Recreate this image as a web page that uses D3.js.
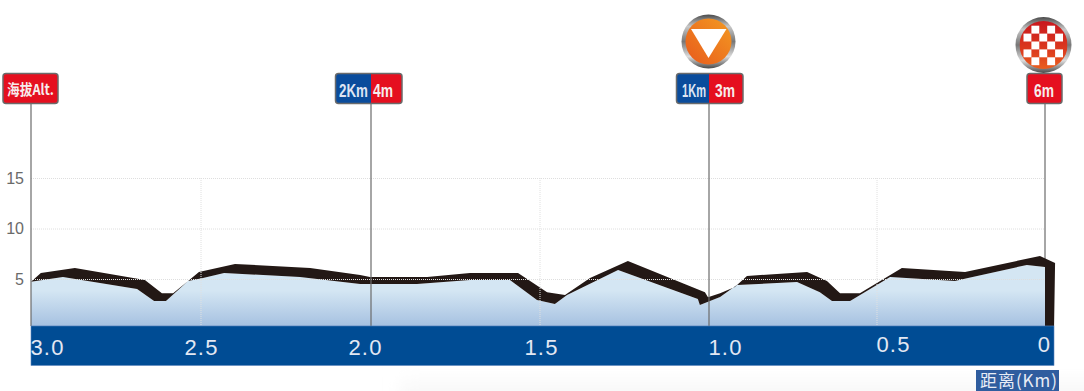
<!DOCTYPE html>
<html>
<head>
<meta charset="utf-8">
<script src="https://cdn.jsdelivr.net/npm/d3@7"></script>
<style>
  html, body { margin: 0; padding: 0; background: #fff; }
  svg { display: block; }
  .badge-text { font-family: "Liberation Sans", sans-serif; font-weight: 700; font-size: 19px; }
</style>
</head>
<body>
<div class="canvas"></div>
<script>
// km to finish / altitude in metres
const roadKm = [3.0, 2.906, 2.688, 2.638, 2.603, 2.538, 2.494, 2.432, 2.209, 2.032, 1.864, 1.707, 1.589, 1.509, 1.456, 1.42, 1.269, 1.033, 1.027, 0.967, 0.917, 0.738, 0.67, 0.634, 0.58, 0.461, 0.268, 0.229, 0.054, 0];
const roadAlt = [4.73, 5.2, 4.0, 2.82, 2.82, 4.8, 5.1, 5.6, 5.2, 4.5, 4.5, 4.9, 4.9, 2.92, 2.52, 3.42, 5.9, 3.02, 2.43, 3.22, 4.4, 4.7, 3.7, 2.82, 2.82, 5.2, 4.8, 5.1, 6.39, 6.19];
const edgeKm = [3.0, 2.971, 2.871, 2.665, 2.615, 2.582, 2.538, 2.506, 2.4, 2.179, 2.032, 2.003, 1.834, 1.707, 1.565, 1.479, 1.426, 1.352, 1.24, 1.012, 1.003, 0.967, 0.923, 0.887, 0.708, 0.649, 0.61, 0.551, 0.426, 0.238, 0.015, -0.03, -0.027];
const edgeAlt = [4.73, 5.6, 6.1, 4.9, 3.6, 3.6, 4.8, 5.7, 6.49, 6.09, 5.4, 5.2, 5.2, 5.6, 5.6, 3.7, 3.42, 5.1, 6.78, 3.7, 3.2, 3.6, 4.2, 5.3, 5.7, 4.8, 3.6, 3.6, 6.09, 5.7, 7.28, 6.58, 0.35];

const baseAlt = 0.35;
const altTicks = [5, 10, 15];
const kmTicks = [3.0, 2.5, 2.0, 1.5, 1.0, 0.5, 0];
const kmLabels = ["3.0", "2.5", "2.0", "1.5", "1.0", "0.5", "0"];
const stemKm = [3.0, 2.0, 1.0];
const finishKm = 0;
const gridKm = [2.5, 1.5, 0.5];

const markerKm = [3.0, 2.0, 1.0, 0];
const markerLeft = ["", "2Km", "1Km", ""];
const markerRight = ["海拔Alt.", "4m", "3m", "6m"];

const dims = { width: 1084, height: 391 };
const x = d3.scaleLinear().domain([3, 2, 1, 0]).range([31, 371, 709, 1045]);
const y = d3.scaleLinear().domain([5, 15]).range([279, 178]);

// the labels in the band do not sit centred on their km, so they get nudged
const kmLabelShift = [16, 0, -6, 1, 16, 16, -1];
const kmLabelDrop = [0, 0, 0, 0, 0, -3, -3];

const svg = d3.select(".canvas").append("svg")
  .attr("width", dims.width)
  .attr("height", dims.height);

const defs = svg.append("defs");

const skyGrad = defs.append("linearGradient").attr("id", "fillGrad").attr("x1", 0).attr("x2", 0).attr("y1", 0).attr("y2", 1);
skyGrad.append("stop").attr("offset", "0.42").attr("stop-color", "#d4e6f3");
skyGrad.append("stop").attr("offset", "1").attr("stop-color", "#a6c1e1");

const shadowGrad = defs.append("linearGradient").attr("id", "shadowGrad").attr("x1", 0).attr("x2", 0).attr("y1", 0).attr("y2", 1);
shadowGrad.append("stop").attr("offset", "0").attr("stop-color", "#fff");
shadowGrad.append("stop").attr("offset", "1").attr("stop-color", "#f1f1f1");
defs.append("filter").attr("id", "soft").attr("x", "-10%").attr("width", "120%").attr("y", "-50%").attr("height", "200%")
  .append("feGaussianBlur").attr("stdDeviation", 8);

const ringGrad = defs.append("linearGradient").attr("id", "ringGrad").attr("x1", 0).attr("x2", 0).attr("y1", 0).attr("y2", 1);
[["0", "#4a4a4a"], ["0.22", "#c8c8c8"], ["0.5", "#777"], ["0.78", "#dcdcdc"], ["1", "#4a4a4a"]].forEach(([o, c]) => {
  ringGrad.append("stop").attr("offset", o).attr("stop-color", c);
});
const orangeGrad = defs.append("linearGradient").attr("id", "orangeGrad").attr("x1", 0).attr("x2", 1).attr("y1", 1).attr("y2", 0);
orangeGrad.append("stop").attr("offset", "0").attr("stop-color", "#e85a1c");
orangeGrad.append("stop").attr("offset", "1").attr("stop-color", "#f39a22");
const checkGrad = defs.append("linearGradient").attr("id", "checkGrad").attr("x1", 0).attr("x2", 0).attr("y1", 0).attr("y2", 1);
checkGrad.append("stop").attr("offset", "0").attr("stop-color", "#c9171e");
checkGrad.append("stop").attr("offset", "0.6").attr("stop-color", "#dc3a1e");
checkGrad.append("stop").attr("offset", "1").attr("stop-color", "#ea5f1e");

// faint page shadow under the chart
svg.append("rect")
  .attr("x", 400).attr("y", 372).attr("width", 760).attr("height", 40)
  .attr("fill", "url(#shadowGrad)")
  .attr("filter", "url(#soft)");

// the finish stem stops at the ribbon, so it goes in first
svg.append("line")
  .attr("x1", x(finishKm)).attr("x2", x(finishKm))
  .attr("y1", 104).attr("y2", y(baseAlt))
  .attr("stroke", "#6b6b6b").attr("stroke-width", 1.2);

// profile
const road = roadKm.map((d, i) => [d, roadAlt[i]]);
const edge = edgeKm.map((d, i) => [d, edgeAlt[i]]);

svg.append("path")
  .datum(road)
  .attr("fill", "url(#fillGrad)")
  .attr("d", d3.area().x((d) => x(d[0])).y0(y(baseAlt)).y1((d) => y(d[1])));

const ribbon = edge.concat([[0, baseAlt]], road.slice().reverse());
svg.append("path")
  .datum(ribbon)
  .attr("fill", "#231815")
  .attr("d", d3.line().x((d) => x(d[0])).y((d) => y(d[1])));

// grid
svg.append("g").selectAll("line").data(altTicks).enter().append("line")
  .attr("x1", 31).attr("x2", 1045)
  .attr("y1", (d) => y(d) + 0.5).attr("y2", (d) => y(d) + 0.5)
  .attr("stroke", "#dedede").attr("stroke-dasharray", "1 1");
svg.append("g").selectAll("line").data(gridKm).enter().append("line")
  .attr("x1", (d) => x(d)).attr("x2", (d) => x(d))
  .attr("y1", y(15)).attr("y2", y(baseAlt))
  .attr("stroke", "#e0e0e0").attr("stroke-dasharray", "1 1");

// y axis labels
const yAxis = svg.append("g")
  .attr("transform", "translate(31,0)")
  .call(d3.axisLeft(y).tickValues(altTicks).tickSize(0).tickPadding(7));
yAxis.select(".domain").remove();
yAxis.selectAll("text")
  .attr("font-family", "Liberation Sans, sans-serif")
  .attr("font-size", 16)
  .attr("fill", "#6a6a6a");

// stems
svg.append("g").selectAll("line").data(stemKm).enter().append("line")
  .attr("x1", (d) => x(d)).attr("x2", (d) => x(d))
  .attr("y1", 104).attr("y2", y(baseAlt))
  .attr("stroke", "#6b6b6b").attr("stroke-width", 1.2);

// x band and labels
svg.append("rect")
  .attr("x", 31).attr("y", y(baseAlt))
  .attr("width", 1023).attr("height", 39.5)
  .attr("fill", "#004c94")
  .attr("stroke", "#5a84bd").attr("stroke-width", 0.6);

const xAxis = svg.append("g")
  .attr("transform", `translate(0,${y(baseAlt)})`)
  .call(d3.axisBottom(x).tickValues(kmTicks).tickSize(0).tickPadding(0).tickFormat((d, i) => kmLabels[i]));
xAxis.select(".domain").remove();
xAxis.selectAll("text")
  .attr("font-family", "Liberation Sans, sans-serif")
  .attr("font-size", 22)
  .attr("letter-spacing", 1.2)
  .attr("fill", "#e3e8f3")
  .attr("dx", (d, i) => kmLabelShift[i])
  .attr("y", (d, i) => 13 + kmLabelDrop[i]);

// squeeze a text into a given width (no narrow face is installed)
function fitText(sel, left, base, width) {
  const natural = sel.node().getComputedTextLength();
  sel.attr("transform", `translate(${left},${base}) scale(${width / natural},1)`);
}

// marker badges
const red = "#e50f1f";
const blue = "#0a4c9c";
const badgeBox = [[3, 58], [335.5, 402], [676.5, 743], [1027, 1062]];
const leftTextBox = [null, [339, 29], [682, 24], null];
const rightTextBox = [[7, 47], [373, 20], [715, 20], [1034, 20]];
const markers = svg.append("g").selectAll("g").data(markerKm).enter().append("g");

markers.each(function (d, i) {
  const g = d3.select(this);
  const [left, right] = badgeBox[i];
  const mid = x(d);
  const clipId = `badge${i}`;
  defs.append("clipPath").attr("id", clipId).append("rect")
    .attr("x", left).attr("y", 73.5).attr("width", right - left).attr("height", 30).attr("rx", 3);
  g.append("rect").attr("x", left).attr("y", 73.5).attr("width", right - left).attr("height", 30)
    .attr("fill", red).attr("clip-path", `url(#${clipId})`);
  if (markerLeft[i]) {
    g.append("rect").attr("x", left).attr("y", 73.5).attr("width", mid - left).attr("height", 30)
      .attr("fill", blue).attr("clip-path", `url(#${clipId})`);
    g.append("text").attr("class", "badge-text")
      .attr("fill", "#dfe5f3")
      .text(markerLeft[i])
      .call(fitText, leftTextBox[i][0], 96.5, leftTextBox[i][1]);
  }
  g.append("rect").attr("x", left).attr("y", 73.5).attr("width", right - left).attr("height", 30)
    .attr("rx", 3).attr("fill", "none").attr("stroke", "#6b6b6b").attr("stroke-width", 1.5);
  g.append("text").attr("class", "badge-text")
    .attr("fill", "#f6ecec")
    .style("font-family", i === 0 ? '"Noto Sans CJK SC", "Liberation Sans", sans-serif' : null)
    .style("font-size", i === 0 ? "15px" : null)
    .text(markerRight[i])
    .call(fitText, rightTextBox[i][0], i === 0 ? 95 : 96.5, rightTextBox[i][1]);
});

// sprint icon
const sprint = svg.append("g").attr("transform", "translate(708.5,41.5)");
sprint.append("circle").attr("r", 27).attr("fill", "url(#ringGrad)");
sprint.append("circle").attr("r", 23).attr("fill", "url(#orangeGrad)");
sprint.append("path")
  .attr("d", d3.line()([[-17.5, -12.5], [18, -12.5], [0, 16.5]]) + "Z")
  .attr("fill", "#fff");

// finish icon
const cell = 7.9;
const finish = svg.append("g").attr("transform", "translate(1043.5,45)");
defs.append("clipPath").attr("id", "checkClip").append("circle").attr("r", 24);
finish.append("circle").attr("r", 28).attr("fill", "url(#ringGrad)");
const board = finish.append("g").attr("clip-path", "url(#checkClip)");
board.append("rect").attr("x", -24).attr("y", -24).attr("width", 48).attr("height", 48).attr("fill", "url(#checkGrad)");
board.selectAll("rect.sq")
  .data(d3.cross(d3.range(0, 5), d3.range(0, 5)).filter(([a, b]) => (a + b) % 2 === 1))
  .enter().append("rect")
  .attr("class", "sq")
  .attr("x", (d) => -20 + d[0] * cell)
  .attr("y", (d) => -19.3 + d[1] * cell)
  .attr("width", cell).attr("height", cell)
  .attr("fill", "#fff");

// distance caption
svg.append("rect")
  .attr("x", 976).attr("y", 370).attr("width", 83).attr("height", 21)
  .attr("fill", "#2f5d9f");
svg.append("text")
  .attr("x", 980).attr("y", 387)
  .attr("textLength", 77).attr("lengthAdjust", "spacing")
  .attr("font-family", '"Noto Sans CJK SC", "Liberation Sans", sans-serif')
  .attr("font-size", 17)
  .attr("fill", "#e8ecf5")
  .text("距离(Km)");
</script>
</body>
</html>
